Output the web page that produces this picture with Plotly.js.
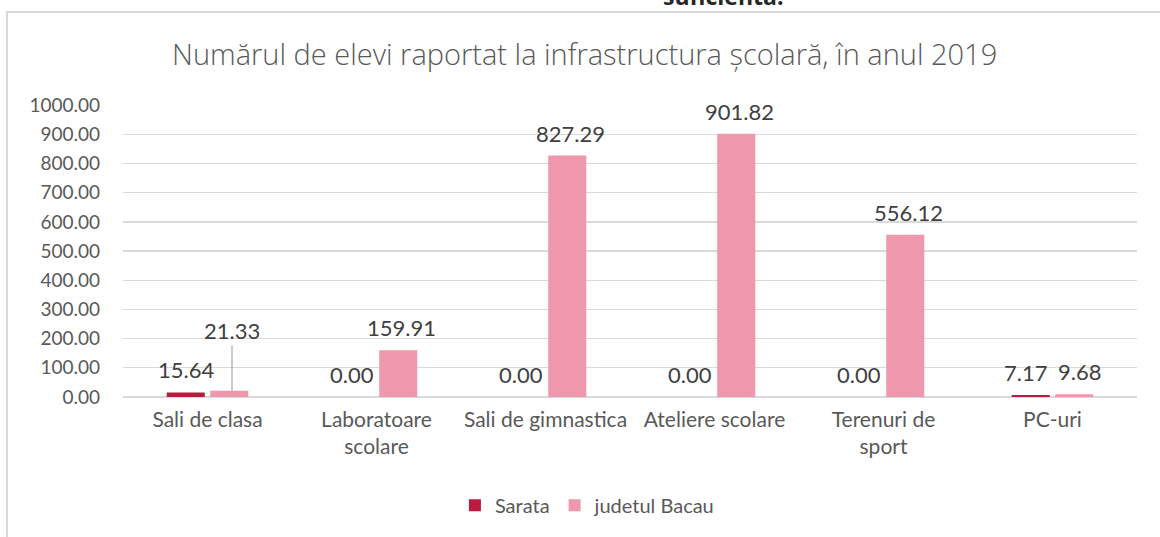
<!DOCTYPE html>
<html>
<head>
<meta charset="utf-8">
<script src="https://cdn.plot.ly/plotly-3.0.1.min.js"></script>
<style>
  html, body { margin: 0; padding: 0; background: #ffffff; }
  #wrap { position: relative; width: 1160px; height: 537px; overflow: hidden; }
  #chart { position: absolute; left: 0; top: 0; width: 1160px; height: 537px; }
  #frame { position: absolute; left: 6px; top: 11px; width: 1160px; height: 600px;
           border-left: 2px solid #d9d9d9; border-top: 2px solid #d9d9d9; pointer-events: none; }
</style>
</head>
<body>
<div id="wrap">
  <div id="chart"></div>
  <div id="frame"></div>
</div>
<script>
// ---- data ----
const categories = ["Sali de clasa", "Laboratoare<br>scolare", "Sali de gimnastica", "Ateliere scolare", "Terenuri de<br>sport", "PC-uri"];
const seriesNames = ["Sarata", "judetul Bacau"];
const sarata = [15.64, 0.00, 0.00, 0.00, 0.00, 7.17];
const bacau = [21.33, 159.91, 827.29, 901.82, 556.12, 9.68];
const yTicks = [0, 100, 200, 300, 400, 500, 600, 700, 800, 900, 1000];
const chartTitle = "Numărul de elevi raportat la infrastructura școlară, în anul 2019";
const topFragment = "suficientă.";

// ---- styles ----
const colors = ["#c0193f", "#ef98ad"];
const txtColor = "#595959";
const lblColor = "#404040";
const font = "Lato, 'Open Sans', sans-serif";

const traces = [
  { type: "bar", name: seriesNames[0], x: categories, y: sarata, marker: { color: colors[0] }, hoverinfo: "none" },
  { type: "bar", name: seriesNames[1], x: categories, y: bacau, marker: { color: colors[1] }, hoverinfo: "none" }
];

const groupOffset = 24.5; // px from category centre to each bar centre
const annotations = [];
[sarata, bacau].forEach((vals, s) => {
  vals.forEach((v, i) => {
    const a = {
      x: categories[i], y: v, xref: "x", yref: "y",
      text: v.toFixed(2),
      xshift: (s === 0 ? -1 : 1) * groupOffset,
      font: { family: font, size: 22, color: lblColor },
      showarrow: false, yanchor: "bottom", yshift: 7
    };
    if (s === 1 && i === 0) {
      // label moved up with a leader line
      a.showarrow = true; a.arrowhead = 0; a.arrowwidth = 1.2; a.arrowcolor = "#a6a6a6";
      a.ax = 0; a.ay = -60; a.yanchor = "middle"; a.yshift = 0; a.standoff = 0;
    }
    if (i === 0 && s === 0) { a.xshift += 3; }
    if (i === 5) { a.xshift += (s === 0 ? -3 : 2); }
    annotations.push(a);
  });
});
annotations.push({
  text: topFragment, xref: "paper", yref: "paper", x: (723 - 123) / 1014, y: 1,
  xanchor: "center", yanchor: "bottom", yshift: 91, showarrow: false,
  font: { family: "'Open Sans', sans-serif", size: 23, color: "#262626", weight: 700 }
});

const layout = {
  width: 1160, height: 537,
  margin: { l: 123, r: 23, t: 105, b: 138 },
  paper_bgcolor: "#ffffff", plot_bgcolor: "#ffffff",
  title: {
    text: chartTitle, x: 0.504, xanchor: "center", y: 1 - 55 / 537, yanchor: "middle",
    font: { family: "'Open Sans', sans-serif", size: 29, color: txtColor, weight: 300 }
  },
  barmode: "group", bargap: 0.485, bargroupgap: 0.126,
  xaxis: {
    type: "category", showgrid: false, zeroline: false, showline: false, ticks: "",
    tickfont: { family: font, size: 21, color: txtColor }, ticklabelstandoff: 8
  },
  yaxis: {
    range: [0, 1000.5], tickvals: yTicks, ticktext: yTicks.map(v => v.toFixed(2)),
    showgrid: true, gridcolor: "#d9d9d9", gridwidth: 1.3, zeroline: true, zerolinecolor: "#d9d9d9", zerolinewidth: 1.3,
    showline: false, ticks: "", ticklabelstandoff: 22,
    tickfont: { family: font, size: 19, color: txtColor }
  },
  showlegend: true,
  legend: {
    orientation: "h", x: 0.458, xanchor: "center", y: -(508 - 399) / 294, yanchor: "middle",
    font: { family: font, size: 20, color: txtColor }, itemwidth: 30, tracegroupgap: 0
  },
  annotations: annotations
};

Plotly.newPlot("chart", traces, layout, { displayModeBar: false, staticPlot: true });
</script>
</body>
</html>
